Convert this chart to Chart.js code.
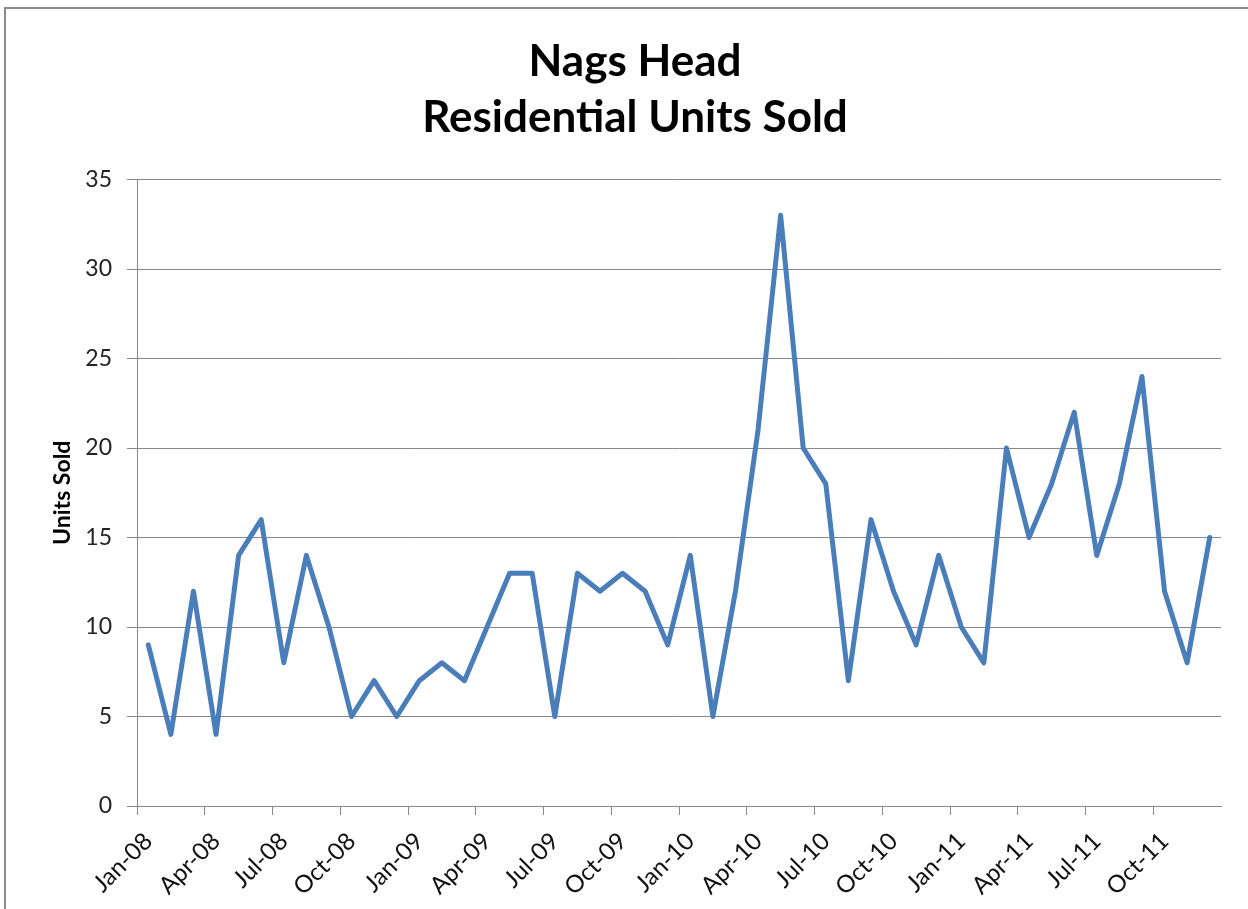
<!DOCTYPE html>
<html>
<head>
<meta charset="utf-8">
<script src="https://cdn.jsdelivr.net/npm/chart.js@4"></script>
<style>
  html, body { margin: 0; padding: 0; background: #fff; }
  #frame { position: absolute; left: 4px; top: 7px; width: 2000px; height: 2000px; border: 2px solid #8c8c8c; }
  #wrap { position: absolute; left: 0; top: 0; width: 1248px; height: 909px; }
</style>
</head>
<body>
<div id="frame"></div>
<div id="wrap"><canvas id="myChart" width="1248" height="909"></canvas></div>
<script>
// one label per month, Jan-08 .. Dec-11
let months = [
  'Jan-08','Feb-08','Mar-08','Apr-08','May-08','Jun-08','Jul-08','Aug-08','Sep-08','Oct-08','Nov-08','Dec-08',
  'Jan-09','Feb-09','Mar-09','Apr-09','May-09','Jun-09','Jul-09','Aug-09','Sep-09','Oct-09','Nov-09','Dec-09',
  'Jan-10','Feb-10','Mar-10','Apr-10','May-10','Jun-10','Jul-10','Aug-10','Sep-10','Oct-10','Nov-10','Dec-10',
  'Jan-11','Feb-11','Mar-11','Apr-11','May-11','Jun-11','Jul-11','Aug-11','Sep-11','Oct-11','Nov-11','Dec-11'
];
let unitsSold = [
  9, 4, 12, 4, 14, 16, 8, 14, 10, 5, 7, 5,
  7, 8, 7, 10, 13, 13, 5, 13, 12, 13, 12, 9,
  14, 5, 12, 21, 33, 20, 18, 7, 16, 12, 9, 14,
  10, 8, 20, 15, 18, 22, 14, 18, 24, 12, 8, 15
];
let titleLines = ['Nags Head', 'Residential Units Sold'];
let yTitle = 'Units Sold';

const gridGray = '#878787';
const ctx = document.getElementById('myChart');

var chart = new Chart(ctx, {
    type: 'line',
    data: {
        labels: months,
        datasets: [{
            label: 'Units Sold',
            data: unitsSold,
            borderWidth: 5,
            borderColor: '#4a7ebb',
            borderJoinStyle: 'round',
            borderCapStyle: 'round',
            pointRadius: 0,
            tension: 0
        }]
    },
    options: {
        responsive: false,
        animation: false,
        layout: { padding: { left: 49, right: 27, top: 8, bottom: 0 } },
        plugins: {
            legend: { display: false },
            tooltip: { enabled: false },
            title: {
                display: true,
                text: titleLines,
                color: '#000',
                font: { family: 'Lato', size: 44, weight: 'bold', lineHeight: 1.29 },
                padding: { top: 25, bottom: 33 }
            }
        },
        scales: {
            x: {
                offset: true,
                afterFit: (s) => { s.height = 103; },
                grid: {
                    offset: true,
                    drawOnChartArea: false,
                    drawTicks: true,
                    tickLength: 9,
                    color: (c) => (c.index % 3 === 0 ? gridGray : 'rgba(0,0,0,0)')
                },
                border: { display: true, color: gridGray, width: 1 },
                ticks: {
                    autoSkip: false,
                    minRotation: 45,
                    maxRotation: 45,
                    color: '#111',
                    padding: 12,
                    font: { family: 'Lato', size: 24 },
                    callback: function (v, i) { return i % 3 === 0 ? months[i] : ''; }
                }
            },
            y: {
                min: 0,
                max: 35,
                afterFit: (s) => { s.width = 88; },
                grid: { color: gridGray, tickLength: 10, lineWidth: 1 },
                border: { display: true, color: gridGray, width: 1 },
                ticks: {
                    stepSize: 5,
                    color: '#222',
                    padding: 15,
                    font: { family: 'Lato', size: 23 }
                },
                title: {
                    display: true,
                    text: yTitle,
                    color: '#000',
                    padding: 0,
                    font: { family: 'Lato', size: 23, weight: 'bold' }
                }
            }
        }
    }
});
</script>
</body>
</html>
